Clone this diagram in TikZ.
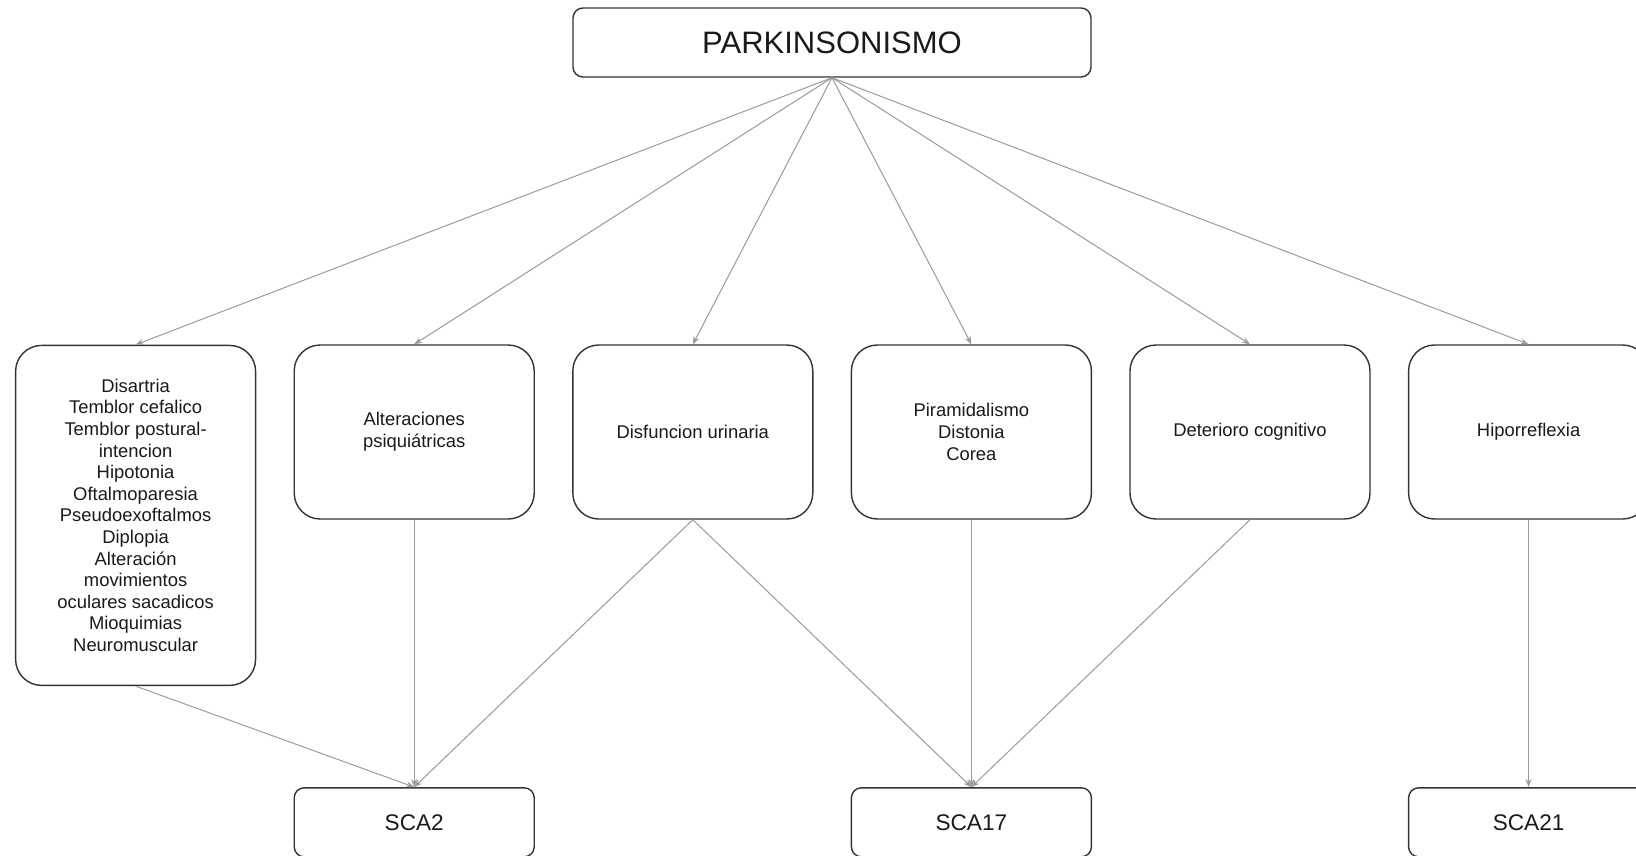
\documentclass[tikz,border=0pt]{standalone}
\usepackage{fontspec}
\setmainfont{Liberation Sans}
\usetikzlibrary{arrows.meta}
\definecolor{boxline}{HTML}{333333}
\definecolor{arrowgray}{HTML}{9A9A9A}
\definecolor{txt}{HTML}{1A1A1A}
\begin{document}
\begin{tikzpicture}[x=1pt,y=-1pt,
  topbox/.style={draw=boxline, line width=1.4pt, rounded corners=10pt, minimum width=518pt, minimum height=69pt, inner sep=0pt, text=txt, font=\fontsize{31}{35}\selectfont},
  midbox/.style={draw=boxline, line width=1.4pt, rounded corners=26pt, minimum width=240pt, minimum height=174pt, inner sep=0pt, align=center, text=txt, font=\fontsize{18.4}{21.6}\selectfont},
  scabox/.style={draw=boxline, line width=1.4pt, rounded corners=10pt, minimum width=240pt, minimum height=69pt, inner sep=0pt, text=txt, font=\fontsize{22.6}{26}\selectfont},
  conn/.style={draw=arrowgray, line width=1pt, -{Stealth[length=8pt,width=6pt]}}
]
\useasboundingbox (0,0) rectangle (1636,855);
\clip (0,0) rectangle (1636,855);
\fill[white] (0,0) rectangle (1636,855);

\node[topbox] (park) at (832,42.5) {PARKINSONISMO};

\node[midbox, minimum height=340pt] (m1) at (135.6,515.4) {Disartria\\Temblor cefalico\\Temblor postural-\\intencion\\Hipotonia\\Oftalmoparesia\\Pseudoexoftalmos\\Diplopia\\Alteración\\movimientos\\oculares sacadicos\\Mioquimias\\Neuromuscular};
\node[midbox] (m2) at (414.2,432) {Alteraciones\\psiquiátricas};
\node[midbox] (m3) at (692.8,432) {Disfuncion urinaria};
\node[midbox] (m4) at (971.4,432) {Piramidalismo\\Distonia\\Corea};
\node[midbox] (m5) at (1250,432) {Deterioro cognitivo};
\node[midbox] (m6) at (1528.6,432) {Hiporreflexia};

\node[scabox] (s2) at (414.2,822.3) {SCA2};
\node[scabox] (s17) at (971.4,822.3) {SCA17};
\node[scabox] (s21) at (1528.6,822.3) {SCA21};

\foreach \m in {m1,m2,m3,m4,m5,m6}
  \draw[conn] (park.south) -- (\m.north);

\draw[conn] (m1.south) -- (s2.north);
\draw[conn] (m2.south) -- (s2.north);
\draw[conn] (m3.south) -- (s2.north);
\draw[conn] (m3.south) -- (s17.north);
\draw[conn] (m4.south) -- (s17.north);
\draw[conn] (m5.south) -- (s17.north);
\draw[conn] (m6.south) -- (s21.north);
\end{tikzpicture}
\end{document}
